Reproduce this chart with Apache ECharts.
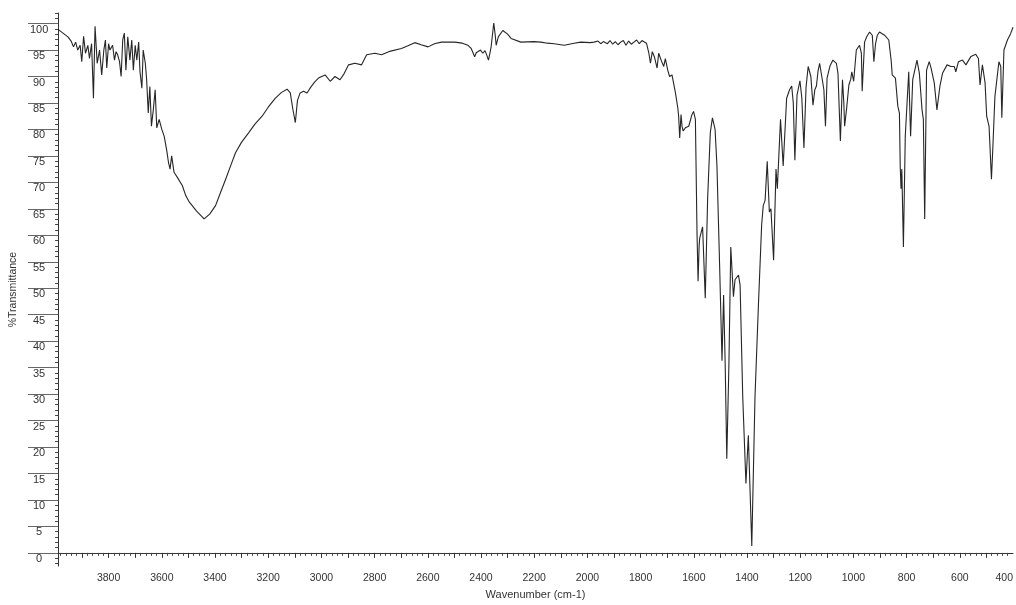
<!DOCTYPE html>
<html>
<head>
<meta charset="utf-8">
<script src="https://cdn.jsdelivr.net/npm/echarts@6/dist/echarts.min.js"></script>
<style>
  html, body { margin: 0; padding: 0; background: #fff; }
  #chart { width: 1016px; height: 605px; }
</style>
</head>
<body>
<div id="chart"></div>
<script>
// IR spectrum: wavenumber (cm-1) and percent transmittance
const wavenumber = [
  3990, 3953, 3941, 3932, 3924, 3916, 3907, 3901, 3894, 3887, 3878, 3872, 3864, 3857, 3851, 3843,
  3834, 3826, 3818, 3812, 3807, 3800, 3795, 3785, 3778, 3772, 3766, 3759, 3753, 3747, 3741, 3735,
  3728, 3720, 3713, 3707, 3700, 3694, 3687, 3682, 3675, 3670, 3662, 3657, 3651, 3645, 3639, 3632,
  3625, 3619, 3610, 3600, 3591, 3582, 3575, 3569, 3563, 3554, 3541, 3523, 3510, 3497, 3470, 3441,
  3420, 3398, 3380, 3360, 3340, 3323, 3300, 3273, 3250, 3223, 3200, 3173, 3150, 3129, 3117, 3108,
  3098, 3090, 3080, 3067, 3054, 3040, 3025, 3011, 2986, 2967, 2949, 2930, 2915, 2898, 2874, 2849,
  2830, 2799, 2774, 2740, 2699, 2675, 2649, 2625, 2599, 2575, 2549, 2499, 2470, 2449, 2437, 2430,
  2424, 2418, 2414, 2402, 2393, 2385, 2378, 2372, 2366, 2362, 2352, 2347, 2343, 2335, 2318, 2300,
  2287, 2250, 2200, 2175, 2150, 2125, 2087, 2050, 2025, 1990, 1975, 1960, 1950, 1940, 1925, 1915,
  1905, 1895, 1885, 1875, 1865, 1855, 1845, 1835, 1825, 1815, 1805, 1795, 1788, 1778, 1769, 1763,
  1756, 1748, 1738, 1732, 1723, 1713, 1707, 1698, 1691, 1682, 1669, 1660, 1657, 1653, 1648, 1644,
  1640, 1632, 1619, 1607, 1601, 1594, 1588, 1584, 1580, 1578, 1567, 1557, 1548, 1538, 1530, 1520,
  1513, 1503, 1494, 1488, 1482, 1476, 1468, 1461, 1451, 1445, 1432, 1426, 1416, 1404, 1395, 1382,
  1370, 1357, 1345, 1339, 1332, 1324, 1316, 1310, 1300, 1291, 1286, 1274, 1264, 1251, 1240, 1232,
  1226, 1220, 1212, 1201, 1194, 1186, 1178, 1170, 1160, 1152, 1145, 1139, 1133, 1127, 1116, 1111,
  1105, 1099, 1088, 1077, 1064, 1058, 1049, 1041, 1036, 1033, 1026, 1017, 1010, 1006, 999, 989,
  977, 970, 967, 958, 950, 939, 929, 923, 917, 910, 902, 883, 867, 858, 854, 842,
  833, 827, 824, 821, 818, 812, 805, 792, 785, 777, 761, 752, 742, 737, 732, 725,
  715, 708, 696, 686, 675, 665, 648, 633, 621, 615, 605, 590, 577, 558, 540, 530,
  524, 515, 505, 499, 490, 481, 475, 468, 453, 446, 442, 434, 421, 409, 400
];

const transmittance = [
  98.9, 97.5, 96.7, 95.6, 96.5, 95.0, 95.9, 92.8, 97.6, 94.4, 95.9, 93.4, 96.2, 85.9, 99.5, 92.5,
  95.0, 90.3, 95.0, 96.9, 91.6, 96.2, 95.0, 95.9, 93.1, 94.7, 94.1, 92.8, 90.0, 96.9, 98.2, 91.2,
  97.5, 93.1, 96.9, 91.2, 95.9, 93.1, 96.5, 90.9, 87.8, 95.0, 92.5, 89.4, 83.1, 88.1, 80.6, 83.7,
  87.5, 80.3, 81.9, 80.0, 78.7, 76.2, 73.8, 72.5, 75.0, 71.9, 70.9, 69.4, 67.5, 66.3, 64.6, 63.1,
  64.0, 65.6, 68.0, 70.6, 73.3, 75.6, 77.6, 79.4, 81.0, 82.5, 84.2, 85.9, 87.0, 87.6, 86.9, 84.0,
  81.3, 85.5, 86.9, 87.2, 86.9, 88.0, 89.0, 89.7, 90.3, 89.1, 90.0, 89.4, 90.5, 92.2, 92.5, 92.2,
  94.1, 94.4, 94.1, 94.8, 95.3, 95.8, 96.4, 96.0, 95.6, 96.2, 96.5, 96.5, 96.3, 95.9, 95.3, 94.5,
  93.7, 94.5, 94.7, 95.0, 94.4, 94.9, 94.0, 93.1, 94.5, 95.6, 100.1, 98.0, 95.9, 97.5, 98.7, 98.0,
  97.2, 96.5, 96.6, 96.5, 96.3, 96.2, 95.9, 96.3, 96.5, 96.4, 96.5, 96.7, 96.2, 96.6, 96.2, 96.8,
  96.1, 96.6, 96.0, 96.5, 96.8, 95.9, 96.7, 96.1, 96.5, 96.9, 96.2, 96.8, 96.5, 96.3, 94.4, 92.5,
  94.7, 93.7, 91.6, 94.4, 93.1, 91.9, 93.4, 91.2, 90.0, 90.3, 86.9, 84.0, 82.5, 78.4, 82.8, 80.5,
  79.7, 80.3, 80.6, 82.8, 83.4, 81.9, 60.6, 51.3, 58.0, 59.4, 61.6, 48.1, 66.9, 79.4, 82.2, 80.0,
  73.1, 54.4, 36.3, 48.7, 35.6, 17.8, 35.6, 57.8, 48.4, 51.6, 52.5, 50.6, 29.4, 13.1, 22.2, 1.3,
  29.4, 46.9, 61.9, 65.6, 66.6, 74.0, 64.4, 65.0, 55.3, 72.5, 68.8, 81.9, 73.1, 85.9, 87.5, 88.2,
  85.0, 74.2, 86.5, 89.2, 86.0, 76.5, 88.0, 91.9, 90.0, 84.6, 87.5, 88.2, 91.0, 92.5, 89.1, 87.5,
  80.6, 89.7, 92.0, 93.1, 92.5, 90.6, 77.8, 89.4, 85.0, 80.6, 83.7, 88.4, 89.5, 90.9, 89.1, 95.0,
  95.9, 94.4, 87.2, 96.5, 97.5, 98.4, 97.8, 92.8, 96.1, 97.8, 98.4, 97.8, 96.9, 93.0, 90.3, 89.7,
  84.4, 83.1, 73.1, 68.8, 72.5, 57.8, 78.7, 90.9, 78.7, 89.4, 93.1, 90.6, 83.7, 81.9, 63.1, 91.2,
  92.8, 91.6, 88.8, 83.7, 88.1, 90.6, 92.2, 91.9, 91.9, 90.9, 92.8, 93.1, 92.2, 93.8, 94.2, 93.4,
  88.4, 92.2, 88.8, 82.5, 80.6, 70.6, 77.5, 86.2, 92.8, 91.9, 82.2, 95.0, 96.9, 98.1, 99.3
];

// Axis extents and tick positions
const xMin = 400, xMax = 3990;
const yMin = -2.5, yMax = 102;
const xLabelValues = [400, 600, 800, 1000, 1200, 1400, 1600, 1800, 2000, 2200, 2400, 2600, 2800, 3000, 3200, 3400, 3600, 3800];
const xMajorTicks = [];
for (let v = 500; v <= 3900; v += 100) xMajorTicks.push(v);
const xMinorTicks = [];
for (let v = 420; v <= 3980; v += 20) if (v % 100 !== 0) xMinorTicks.push(v);
const yLabelValues = [];
for (let v = 0; v <= 100; v += 5) yLabelValues.push(v);
const yMinorTicks = [];
for (let v = -2; v <= 102; v += 1) if (v % 5 !== 0) yMinorTicks.push(v);

const points = wavenumber.map((w, i) => [w, transmittance[i]]);

const FONT = 'Liberation Sans, Arial, sans-serif';
const plain = v => String(v);
const chart = echarts.init(document.getElementById('chart'), null, { renderer: 'canvas' });

chart.setOption({
  animation: false,
  backgroundColor: '#ffffff',
  grid: { left: 55, right: 2, top: 13, bottom: 35, containLabel: false },
  xAxis: [
    {
      type: 'value', inverse: true, min: xMin, max: xMax,
      name: 'Wavenumber (cm-1)', nameLocation: 'middle', nameGap: 20,
      nameTextStyle: { fontFamily: FONT, fontSize: 11, color: '#333' },
      axisLine: { show: true, lineStyle: { color: '#333', width: 1 } },
      axisTick: { show: true, customValues: xMajorTicks, length: 5, lineStyle: { color: '#333' } },
      axisLabel: {
        show: true, customValues: xLabelValues, margin: 7, formatter: plain,
        fontFamily: FONT, fontSize: 10.5, color: '#333',
        alignMinLabel: 'right'
      },
      splitLine: { show: false }
    },
    {
      type: 'value', inverse: true, min: xMin, max: xMax, position: 'bottom', offset: 0,
      axisLine: { show: false },
      axisTick: { show: true, customValues: xMinorTicks, length: 3, lineStyle: { color: '#444' } },
      axisLabel: { show: false },
      splitLine: { show: false }
    }
  ],
  yAxis: [
    {
      type: 'value', min: yMin, max: yMax,
      name: '%Transmittance', nameLocation: 'middle', nameGap: 29, nameRotate: 90,
      nameTextStyle: { fontFamily: FONT, fontSize: 10.5, color: '#333' },
      axisLine: { show: true, lineStyle: { color: '#333', width: 1 } },
      axisTick: { show: true, customValues: yLabelValues, length: 30, lineStyle: { color: '#666' } },
      axisLabel: {
        show: true, customValues: yLabelValues, margin: 19, align: 'center', formatter: plain,
        verticalAlign: 'top', lineHeight: 12,
        fontFamily: FONT, fontSize: 11, color: '#333'
      },
      splitLine: { show: false }
    },
    {
      type: 'value', min: yMin, max: yMax, position: 'left', offset: 0,
      axisLine: { show: false },
      axisTick: { show: true, customValues: yMinorTicks, length: 3, lineStyle: { color: '#444' } },
      axisLabel: { show: false },
      splitLine: { show: false }
    }
  ],
  series: [
    {
      type: 'line', xAxisIndex: 0, yAxisIndex: 0,
      data: points, symbol: 'none', showSymbol: false,
      lineStyle: { color: '#262626', width: 1.1 },
      clip: false
    }
  ]
});
</script>
</body>
</html>
